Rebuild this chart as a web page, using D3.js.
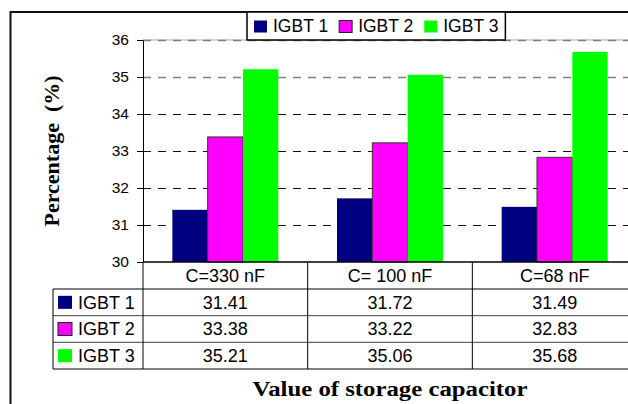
<!DOCTYPE html>
<html>
<head>
<meta charset="utf-8">
<script src="https://cdn.jsdelivr.net/npm/d3@7"></script>
<style>
	body { margin: 0; background: #fff; }
	svg { display: block; }
	text { font-family: "Liberation Sans", Arial, sans-serif; fill: #000; }
	.serif { font-family: "Liberation Serif", "Times New Roman", serif; font-weight: bold; white-space: pre; }
</style>
</head>
<body>
<div id="chart"></div>
<script>
// chart values
var categories = [ "C=330 nF", "C= 100 nF", "C=68 nF" ];
var seriesNames = [ "IGBT 1", "IGBT 2", "IGBT 3" ];
var igbt1 = [ 31.41, 31.72, 31.49 ];
var igbt2 = [ 33.38, 33.22, 32.83 ];
var igbt3 = [ 35.21, 35.06, 35.68 ];
var yTicks = [ 30, 31, 32, 33, 34, 35, 36 ];
var tableLabels = [ "31.41", "31.72", "31.49", "33.38", "33.22", "32.83", "35.21", "35.06", "35.68" ];

var colors = [ "#000080", "#ff00ff", "#00ff00" ];
var strokes = [ "none", "#333", "none" ];

( function ()
{
	var W = 628, H = 404;
	var series = [ igbt1, igbt2, igbt3 ];

	var svg = d3.select( "#chart" ).append( "svg" )
		.attr( "width", W )
		.attr( "height", H );

	// plot area runs past the right edge of the picture, like the original
	var plot = { left: 143, right: 637, top: 40, bottom: 262 };

	var y = d3.scaleLinear()
		.domain( [ d3.min( yTicks ), d3.max( yTicks ) ] )
		.range( [ plot.bottom, plot.top ] );

	var x = d3.scaleBand()
		.domain( categories )
		.range( [ plot.left, plot.right ] )
		.padding( 0 );

	var x1 = d3.scaleBand()
		.domain( seriesNames )
		.range( [ 0, x.bandwidth() ] )
		.paddingInner( 0 )
		.paddingOuter( 0.83 );

	// table rows under the plot
	var row = d3.scaleBand()
		.domain( seriesNames )
		.range( [ 289, 369 ] );

	// outer frame of the chart (also cut off at right and bottom)
	svg.append( "rect" )
		.attr( "x", 10.5 ).attr( "y", 12 )
		.attr( "width", 700 ).attr( "height", 500 )
		.attr( "fill", "none" )
		.attr( "stroke", "#111" )
		.attr( "stroke-width", 2 );

	// light top border of plot area
	svg.append( "line" )
		.attr( "x1", plot.left ).attr( "x2", plot.right )
		.attr( "y1", plot.top ).attr( "y2", plot.top )
		.attr( "stroke", "#c4c4c4" )
		.attr( "stroke-width", 1.5 );

	// dashed gridlines
	svg.append( "g" )
		.selectAll( "line" )
		.data( yTicks.filter( function ( d ) { return d > yTicks[0]; } ) )
		.join( "line" )
		.attr( "x1", plot.left ).attr( "x2", plot.right )
		.attr( "y1", function ( d ) { return Math.round( y( d ) ) + 0.5; } )
		.attr( "y2", function ( d ) { return Math.round( y( d ) ) + 0.5; } )
		.attr( "stroke", function ( d ) { return d >= 35 ? "#808080" : "#111"; } )
		.attr( "stroke-width", function ( d ) { return d >= 35 ? 1.5 : 1; } )
		.attr( "stroke-dasharray", "8,7" );

	// bars
	svg.append( "g" )
		.selectAll( "g" )
		.data( series )
		.join( "g" )
		.attr( "fill", function ( d, i ) { return colors[i]; } )
		.attr( "stroke", function ( d, i ) { return strokes[i]; } )
		.each( function ( vals, i )
		{
			d3.select( this ).selectAll( "rect" )
				.data( vals )
				.join( "rect" )
				.attr( "x", function ( v, j ) { return x( categories[j] ) + x1( seriesNames[i] ); } )
				.attr( "y", function ( v ) { return y( v ); } )
				.attr( "width", x1.bandwidth() )
				.attr( "height", function ( v ) { return y( yTicks[0] ) - y( v ); } );
		} );

	// y axis
	var yAxis = svg.append( "g" )
		.attr( "transform", "translate(" + plot.left + ",0)" )
		.call( d3.axisLeft( y ).tickValues( yTicks ).tickFormat( d3.format( "d" ) )
			.tickSize( 6 ).tickSizeOuter( 0 ).tickPadding( 8 ) );
	yAxis.selectAll( "text" ).style( "font-size", "15.5px" );
	yAxis.selectAll( "line, path" ).attr( "stroke", "#000" );

	// x axis line
	svg.append( "line" )
		.attr( "x1", plot.left ).attr( "x2", plot.right )
		.attr( "y1", plot.bottom ).attr( "y2", plot.bottom )
		.attr( "stroke", "#000" )
		.attr( "stroke-width", 1.5 );

	// data table
	var tbl = svg.append( "g" ).attr( "stroke", "#000" ).attr( "stroke-width", 1 );
	var tableLeft = 53;
	tbl.append( "line" )
		.attr( "x1", tableLeft ).attr( "x2", plot.right )
		.attr( "y1", row.range()[0] ).attr( "y2", row.range()[0] );
	tbl.selectAll( "line.rowline" )
		.data( seriesNames )
		.join( "line" )
		.attr( "class", "rowline" )
		.attr( "x1", tableLeft ).attr( "x2", plot.right )
		.attr( "y1", function ( d ) { return row( d ) + row.bandwidth(); } )
		.attr( "y2", function ( d ) { return row( d ) + row.bandwidth(); } )
		.attr( "stroke", function ( d, i ) { return i < 2 ? "#444" : "#000"; } );
	tbl.append( "line" )
		.attr( "x1", tableLeft ).attr( "x2", tableLeft )
		.attr( "y1", row.range()[0] ).attr( "y2", row.range()[1] );
	tbl.selectAll( "line.colline" )
		.data( [ plot.left ].concat( categories.map( function ( c ) { return x( c ) + x.bandwidth(); } ) ) )
		.join( "line" )
		.attr( "class", "colline" )
		.attr( "x1", function ( d ) { return d; } ).attr( "x2", function ( d ) { return d; } )
		.attr( "y1", plot.bottom ).attr( "y2", row.range()[1] );

	// category labels in the first table row
	svg.append( "g" )
		.selectAll( "text" )
		.data( categories )
		.join( "text" )
		.attr( "x", function ( d ) { return x( d ) + x.bandwidth() / 2; } )
		.attr( "y", ( plot.bottom + row.range()[0] ) / 2 )
		.attr( "dy", "0.36em" )
		.attr( "text-anchor", "middle" )
		.style( "font-size", "18px" )
		.text( function ( d ) { return d; } );

	// table values
	svg.append( "g" )
		.selectAll( "text" )
		.data( tableLabels )
		.join( "text" )
		.attr( "x", function ( d, k ) { return x( categories[k % 3] ) + x.bandwidth() / 2; } )
		.attr( "y", function ( d, k ) { return row( seriesNames[Math.floor( k / 3 )] ) + row.bandwidth() / 2; } )
		.attr( "dy", "0.36em" )
		.attr( "text-anchor", "middle" )
		.style( "font-size", "18px" )
		.text( function ( d ) { return d; } );

	// table row keys
	var keys = svg.append( "g" )
		.selectAll( "g" )
		.data( seriesNames )
		.join( "g" )
		.attr( "transform", function ( d ) { return "translate(58," + ( row( d ) + row.bandwidth() / 2 ) + ")"; } );
	keys.append( "rect" )
		.attr( "x", 0 ).attr( "y", -6.5 )
		.attr( "width", 14 ).attr( "height", 13 )
		.attr( "fill", function ( d, i ) { return colors[i]; } )
		.attr( "stroke", function ( d, i ) { return i == 1 ? "#222" : "none"; } );
	keys.append( "text" )
		.attr( "x", 20 )
		.attr( "dy", "0.36em" )
		.style( "font-size", "18px" )
		.text( function ( d ) { return d; } );

	// legend box at the top
	var legend = svg.append( "g" ).attr( "transform", "translate(247,12)" );
	var legendBox = legend.append( "rect" )
		.attr( "height", 28 )
		.attr( "fill", "#fff" )
		.attr( "stroke", "#000" )
		.attr( "stroke-width", 1.5 );
	var lx = 7;
	seriesNames.forEach( function ( name, i )
	{
		legend.append( "rect" )
			.attr( "x", lx ).attr( "y", 8.5 )
			.attr( "width", 13 ).attr( "height", 12 )
			.attr( "fill", colors[i] )
			.attr( "stroke", i == 1 ? "#222" : "none" );
		var t = legend.append( "text" )
			.attr( "x", lx + 19 )
			.attr( "y", 14 )
			.attr( "dy", "0.36em" )
			.style( "font-size", "17.5px" )
			.text( name );
		lx += 19 + t.node().getComputedTextLength() + 11;
	} );
	legendBox.attr( "width", lx - 4 );

	// axis titles
	svg.append( "text" )
		.attr( "class", "serif" )
		.attr( "transform", "translate(59," + ( ( plot.top + plot.bottom ) / 2 ) + ") rotate(-90)" )
		.attr( "text-anchor", "middle" )
		.style( "font-size", "22px" )
		.text( "Percentage  (%)" );

	svg.append( "text" )
		.attr( "class", "serif" )
		.attr( "transform", "translate(" + ( ( plot.left + plot.right ) / 2 ) + ",396) scale(1.18,1)" )
		.attr( "text-anchor", "middle" )
		.style( "font-size", "21px" )
		.text( "Value of storage capacitor" );
} )();
</script>
</body>
</html>
